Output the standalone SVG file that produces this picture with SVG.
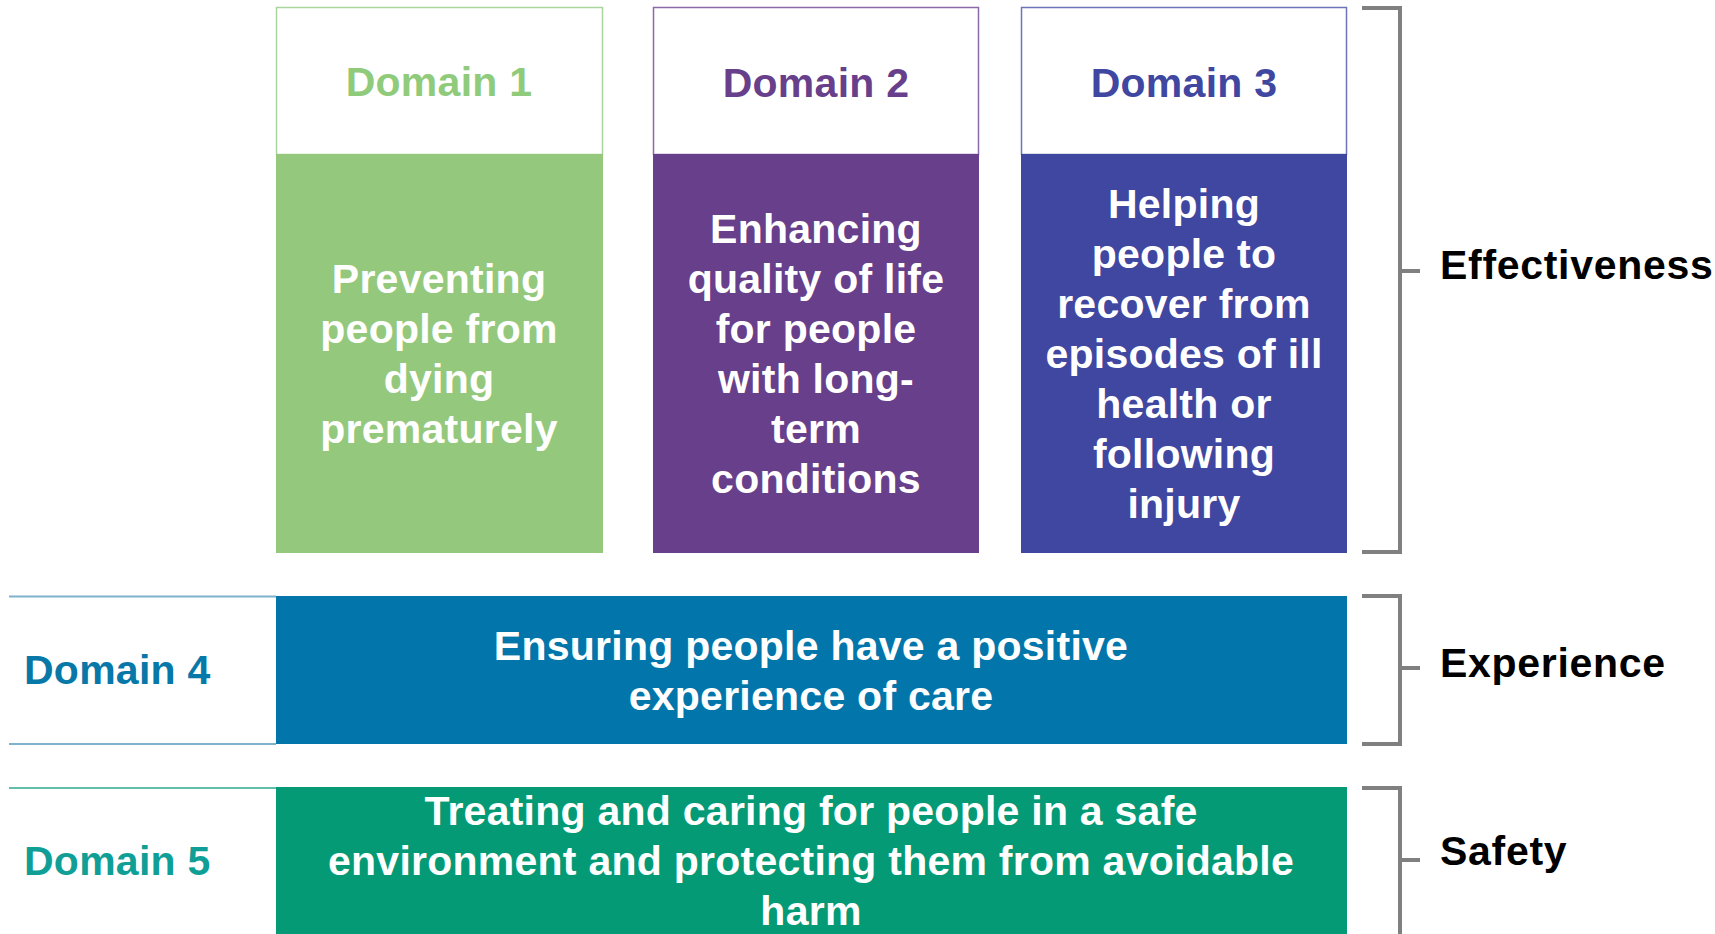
<svg xmlns="http://www.w3.org/2000/svg" width="1715" height="934" viewBox="0 0 1715 934">
<style>
text{font-family:"Liberation Sans",Arial,sans-serif;font-weight:bold;font-size:41px;letter-spacing:0.25px}
.c{text-anchor:middle}
.w{fill:#ffffff}
.k{fill:#000000;letter-spacing:0.7px}
.br{fill:none;stroke:#808080;stroke-width:4}
</style>
<rect width="1715" height="934" fill="#ffffff"/>
<g id="domain1">
<rect x="276.5" y="7.5" width="326" height="147" fill="#ffffff" stroke="#A9D59A" stroke-width="1.5"/>
<rect x="276" y="154" width="327" height="399" fill="#94C97D"/>
<text class="c" x="439" y="96" fill="#8FCB7A">Domain 1</text>
<text class="c w" x="439" y="293">Preventing</text>
<text class="c w" x="439" y="343">people from</text>
<text class="c w" x="439" y="393">dying</text>
<text class="c w" x="439" y="443">prematurely</text>
</g>
<g id="domain2">
<rect x="653.5" y="7.5" width="325" height="147" fill="#ffffff" stroke="#8A6AA8" stroke-width="1.5"/>
<rect x="653" y="154" width="326" height="399" fill="#683F8B"/>
<text class="c" x="816" y="97" fill="#683F8B">Domain 2</text>
<text class="c w" x="816" y="243">Enhancing</text>
<text class="c w" x="816" y="293">quality of life</text>
<text class="c w" x="816" y="343">for people</text>
<text class="c w" x="816" y="393">with long-</text>
<text class="c w" x="816" y="443">term</text>
<text class="c w" x="816" y="493">conditions</text>
</g>
<g id="domain3">
<rect x="1021.5" y="7.5" width="325" height="147" fill="#ffffff" stroke="#6E74B8" stroke-width="1.5"/>
<rect x="1021" y="154" width="326" height="399" fill="#3F47A1"/>
<text class="c" x="1184" y="97" fill="#3F47A1">Domain 3</text>
<text class="c w" x="1184" y="218">Helping</text>
<text class="c w" x="1184" y="268">people to</text>
<text class="c w" x="1184" y="318">recover from</text>
<text class="c w" x="1184" y="368">episodes of ill</text>
<text class="c w" x="1184" y="418">health or</text>
<text class="c w" x="1184" y="468">following</text>
<text class="c w" x="1184" y="518">injury</text>
</g>
<g id="domain4">
<line x1="9" y1="596.5" x2="276" y2="596.5" stroke="#7FB2CB" stroke-width="2"/>
<line x1="9" y1="744" x2="276" y2="744" stroke="#7FB2CB" stroke-width="2"/>
<rect x="276" y="596" width="1071" height="148" fill="#0276AA"/>
<text x="24" y="684" fill="#0778A8">Domain 4</text>
<text class="c w" x="811" y="660">Ensuring people have a positive</text>
<text class="c w" x="811" y="710">experience of care</text>
</g>
<g id="domain5">
<line x1="9" y1="788" x2="276" y2="788" stroke="#62BDAA" stroke-width="2"/>
<rect x="276" y="787" width="1071" height="150" fill="#039A75"/>
<text x="24" y="875" fill="#0F9F97">Domain 5</text>
<text class="c w" x="811" y="825">Treating and caring for people in a safe</text>
<text class="c w" x="811" y="875">environment and protecting them from avoidable</text>
<text class="c w" x="811" y="925">harm</text>
</g>
<g id="connectors">
<path class="br" d="M1362 8 H1400 V552 H1362 M1400 271 H1420"/>
<path class="br" d="M1362 596 H1400 V744 H1362 M1400 668 H1420"/>
<path class="br" d="M1362 788 H1400 V940 M1400 860 H1420"/>
</g>
<g id="labels">
<text class="k" x="1440" y="279">Effectiveness</text>
<text class="k" x="1440" y="677">Experience</text>
<text class="k" x="1440" y="865">Safety</text>
</g>
</svg>
